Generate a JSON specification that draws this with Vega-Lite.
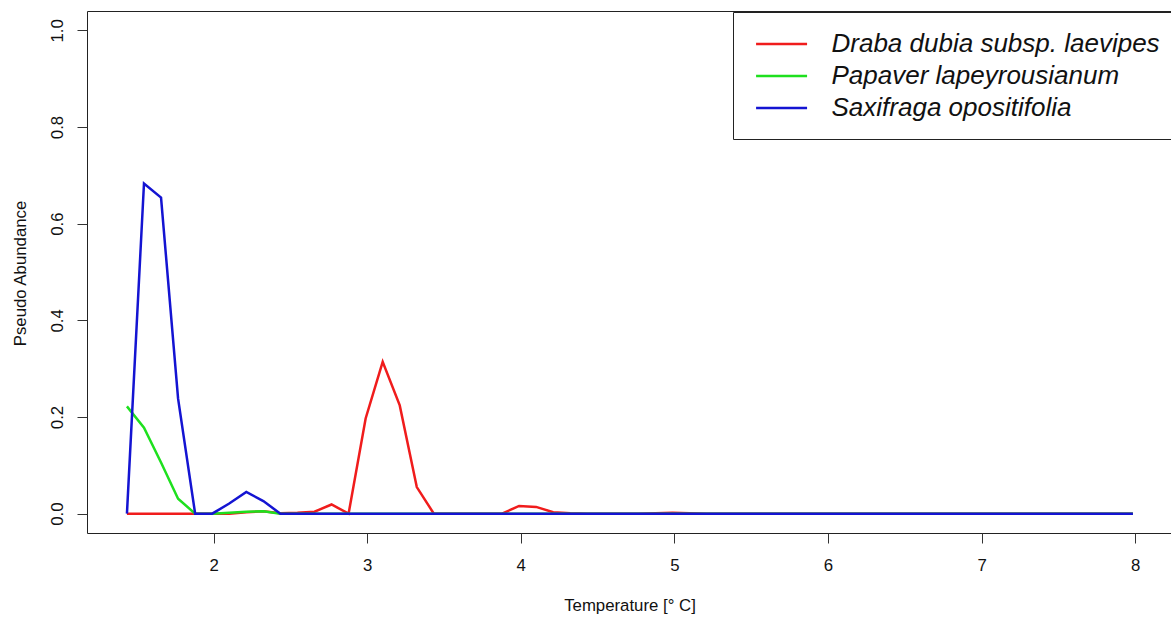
{
  "$schema": "https://vega.github.io/schema/vega-lite/v6.json",
  "width": 1084,
  "height": 522,
  "autosize": {"type": "none"},
  "padding": {"left": 87, "top": 11, "right": 0, "bottom": 84},
  "background": "white",
  "config": {
    "view": {"stroke": "#222", "strokeWidth": 1},
    "axis": {
      "grid": false, "domain": false, "tickColor": "#333", "tickSize": 10, "tickWidth": 1,
      "labelFont": "Liberation Sans", "labelFontSize": 16.8, "labelColor": "#111",
      "titleFont": "Liberation Sans", "titleFontSize": 16.8, "titleFontWeight": "normal", "titleColor": "#111"
    },
    "legend": {
      "orient": "none", "legendX": 646, "legendY": 1, "title": null,
      "strokeColor": "#222", "fillColor": "white", "padding": 18,
      "symbolType": "M-0.7,0H3.3", "symbolSize": 650, "symbolStrokeWidth": 2.5,
      "labelFont": "Liberation Sans", "labelFontSize": 26, "labelFontStyle": "italic", "labelColor": "#111",
      "labelOffset": 52.5, "rowPadding": 5, "labelLimit": 800, "labelBaseline": "middle"
    }
  },
  "data": {"values": [
    {"temperature": 1.436, "species": "Draba dubia subsp. laevipes", "abundance": 0},
    {"temperature": 1.547, "species": "Draba dubia subsp. laevipes", "abundance": 0},
    {"temperature": 1.658, "species": "Draba dubia subsp. laevipes", "abundance": 0},
    {"temperature": 1.769, "species": "Draba dubia subsp. laevipes", "abundance": 0},
    {"temperature": 1.880, "species": "Draba dubia subsp. laevipes", "abundance": 0},
    {"temperature": 1.991, "species": "Draba dubia subsp. laevipes", "abundance": 0},
    {"temperature": 2.102, "species": "Draba dubia subsp. laevipes", "abundance": 0},
    {"temperature": 2.213, "species": "Draba dubia subsp. laevipes", "abundance": 0.003},
    {"temperature": 2.324, "species": "Draba dubia subsp. laevipes", "abundance": 0.005},
    {"temperature": 2.435, "species": "Draba dubia subsp. laevipes", "abundance": 0.001},
    {"temperature": 2.546, "species": "Draba dubia subsp. laevipes", "abundance": 0.002},
    {"temperature": 2.657, "species": "Draba dubia subsp. laevipes", "abundance": 0.004},
    {"temperature": 2.768, "species": "Draba dubia subsp. laevipes", "abundance": 0.019},
    {"temperature": 2.879, "species": "Draba dubia subsp. laevipes", "abundance": 0},
    {"temperature": 2.990, "species": "Draba dubia subsp. laevipes", "abundance": 0.197},
    {"temperature": 3.101, "species": "Draba dubia subsp. laevipes", "abundance": 0.314},
    {"temperature": 3.212, "species": "Draba dubia subsp. laevipes", "abundance": 0.224},
    {"temperature": 3.323, "species": "Draba dubia subsp. laevipes", "abundance": 0.055},
    {"temperature": 3.434, "species": "Draba dubia subsp. laevipes", "abundance": 0},
    {"temperature": 3.545, "species": "Draba dubia subsp. laevipes", "abundance": 0},
    {"temperature": 3.656, "species": "Draba dubia subsp. laevipes", "abundance": 0},
    {"temperature": 3.767, "species": "Draba dubia subsp. laevipes", "abundance": 0},
    {"temperature": 3.878, "species": "Draba dubia subsp. laevipes", "abundance": 0},
    {"temperature": 3.989, "species": "Draba dubia subsp. laevipes", "abundance": 0.016},
    {"temperature": 4.100, "species": "Draba dubia subsp. laevipes", "abundance": 0.014},
    {"temperature": 4.211, "species": "Draba dubia subsp. laevipes", "abundance": 0.003},
    {"temperature": 4.322, "species": "Draba dubia subsp. laevipes", "abundance": 0.001},
    {"temperature": 4.433, "species": "Draba dubia subsp. laevipes", "abundance": 0},
    {"temperature": 4.544, "species": "Draba dubia subsp. laevipes", "abundance": 0},
    {"temperature": 4.655, "species": "Draba dubia subsp. laevipes", "abundance": 0},
    {"temperature": 4.766, "species": "Draba dubia subsp. laevipes", "abundance": 0},
    {"temperature": 4.877, "species": "Draba dubia subsp. laevipes", "abundance": 0.001},
    {"temperature": 4.988, "species": "Draba dubia subsp. laevipes", "abundance": 0.002},
    {"temperature": 5.099, "species": "Draba dubia subsp. laevipes", "abundance": 0.001},
    {"temperature": 5.210, "species": "Draba dubia subsp. laevipes", "abundance": 0},
    {"temperature": 5.321, "species": "Draba dubia subsp. laevipes", "abundance": 0},
    {"temperature": 5.432, "species": "Draba dubia subsp. laevipes", "abundance": 0},
    {"temperature": 5.543, "species": "Draba dubia subsp. laevipes", "abundance": 0},
    {"temperature": 5.654, "species": "Draba dubia subsp. laevipes", "abundance": 0},
    {"temperature": 5.765, "species": "Draba dubia subsp. laevipes", "abundance": 0},
    {"temperature": 5.876, "species": "Draba dubia subsp. laevipes", "abundance": 0},
    {"temperature": 5.987, "species": "Draba dubia subsp. laevipes", "abundance": 0},
    {"temperature": 6.098, "species": "Draba dubia subsp. laevipes", "abundance": 0},
    {"temperature": 6.209, "species": "Draba dubia subsp. laevipes", "abundance": 0},
    {"temperature": 6.320, "species": "Draba dubia subsp. laevipes", "abundance": 0},
    {"temperature": 6.431, "species": "Draba dubia subsp. laevipes", "abundance": 0},
    {"temperature": 6.542, "species": "Draba dubia subsp. laevipes", "abundance": 0},
    {"temperature": 6.653, "species": "Draba dubia subsp. laevipes", "abundance": 0},
    {"temperature": 6.764, "species": "Draba dubia subsp. laevipes", "abundance": 0},
    {"temperature": 6.875, "species": "Draba dubia subsp. laevipes", "abundance": 0},
    {"temperature": 6.986, "species": "Draba dubia subsp. laevipes", "abundance": 0},
    {"temperature": 7.097, "species": "Draba dubia subsp. laevipes", "abundance": 0},
    {"temperature": 7.208, "species": "Draba dubia subsp. laevipes", "abundance": 0},
    {"temperature": 7.319, "species": "Draba dubia subsp. laevipes", "abundance": 0},
    {"temperature": 7.430, "species": "Draba dubia subsp. laevipes", "abundance": 0},
    {"temperature": 7.541, "species": "Draba dubia subsp. laevipes", "abundance": 0},
    {"temperature": 7.652, "species": "Draba dubia subsp. laevipes", "abundance": 0},
    {"temperature": 7.763, "species": "Draba dubia subsp. laevipes", "abundance": 0},
    {"temperature": 7.874, "species": "Draba dubia subsp. laevipes", "abundance": 0},
    {"temperature": 7.985, "species": "Draba dubia subsp. laevipes", "abundance": 0},
    {"temperature": 1.436, "species": "Papaver lapeyrousianum", "abundance": 0.222},
    {"temperature": 1.547, "species": "Papaver lapeyrousianum", "abundance": 0.178},
    {"temperature": 1.658, "species": "Papaver lapeyrousianum", "abundance": 0.106},
    {"temperature": 1.769, "species": "Papaver lapeyrousianum", "abundance": 0.031},
    {"temperature": 1.880, "species": "Papaver lapeyrousianum", "abundance": 0},
    {"temperature": 1.991, "species": "Papaver lapeyrousianum", "abundance": 0},
    {"temperature": 2.102, "species": "Papaver lapeyrousianum", "abundance": 0.002},
    {"temperature": 2.213, "species": "Papaver lapeyrousianum", "abundance": 0.004},
    {"temperature": 2.324, "species": "Papaver lapeyrousianum", "abundance": 0.005},
    {"temperature": 2.435, "species": "Papaver lapeyrousianum", "abundance": 0},
    {"temperature": 2.546, "species": "Papaver lapeyrousianum", "abundance": 0},
    {"temperature": 2.657, "species": "Papaver lapeyrousianum", "abundance": 0},
    {"temperature": 2.768, "species": "Papaver lapeyrousianum", "abundance": 0},
    {"temperature": 2.879, "species": "Papaver lapeyrousianum", "abundance": 0},
    {"temperature": 2.990, "species": "Papaver lapeyrousianum", "abundance": 0},
    {"temperature": 3.101, "species": "Papaver lapeyrousianum", "abundance": 0},
    {"temperature": 3.212, "species": "Papaver lapeyrousianum", "abundance": 0},
    {"temperature": 3.323, "species": "Papaver lapeyrousianum", "abundance": 0},
    {"temperature": 3.434, "species": "Papaver lapeyrousianum", "abundance": 0},
    {"temperature": 3.545, "species": "Papaver lapeyrousianum", "abundance": 0},
    {"temperature": 3.656, "species": "Papaver lapeyrousianum", "abundance": 0},
    {"temperature": 3.767, "species": "Papaver lapeyrousianum", "abundance": 0},
    {"temperature": 3.878, "species": "Papaver lapeyrousianum", "abundance": 0},
    {"temperature": 3.989, "species": "Papaver lapeyrousianum", "abundance": 0},
    {"temperature": 4.100, "species": "Papaver lapeyrousianum", "abundance": 0},
    {"temperature": 4.211, "species": "Papaver lapeyrousianum", "abundance": 0},
    {"temperature": 4.322, "species": "Papaver lapeyrousianum", "abundance": 0},
    {"temperature": 4.433, "species": "Papaver lapeyrousianum", "abundance": 0},
    {"temperature": 4.544, "species": "Papaver lapeyrousianum", "abundance": 0},
    {"temperature": 4.655, "species": "Papaver lapeyrousianum", "abundance": 0},
    {"temperature": 4.766, "species": "Papaver lapeyrousianum", "abundance": 0},
    {"temperature": 4.877, "species": "Papaver lapeyrousianum", "abundance": 0},
    {"temperature": 4.988, "species": "Papaver lapeyrousianum", "abundance": 0},
    {"temperature": 5.099, "species": "Papaver lapeyrousianum", "abundance": 0},
    {"temperature": 5.210, "species": "Papaver lapeyrousianum", "abundance": 0},
    {"temperature": 5.321, "species": "Papaver lapeyrousianum", "abundance": 0},
    {"temperature": 5.432, "species": "Papaver lapeyrousianum", "abundance": 0},
    {"temperature": 5.543, "species": "Papaver lapeyrousianum", "abundance": 0},
    {"temperature": 5.654, "species": "Papaver lapeyrousianum", "abundance": 0},
    {"temperature": 5.765, "species": "Papaver lapeyrousianum", "abundance": 0},
    {"temperature": 5.876, "species": "Papaver lapeyrousianum", "abundance": 0},
    {"temperature": 5.987, "species": "Papaver lapeyrousianum", "abundance": 0},
    {"temperature": 6.098, "species": "Papaver lapeyrousianum", "abundance": 0},
    {"temperature": 6.209, "species": "Papaver lapeyrousianum", "abundance": 0},
    {"temperature": 6.320, "species": "Papaver lapeyrousianum", "abundance": 0},
    {"temperature": 6.431, "species": "Papaver lapeyrousianum", "abundance": 0},
    {"temperature": 6.542, "species": "Papaver lapeyrousianum", "abundance": 0},
    {"temperature": 6.653, "species": "Papaver lapeyrousianum", "abundance": 0},
    {"temperature": 6.764, "species": "Papaver lapeyrousianum", "abundance": 0},
    {"temperature": 6.875, "species": "Papaver lapeyrousianum", "abundance": 0},
    {"temperature": 6.986, "species": "Papaver lapeyrousianum", "abundance": 0},
    {"temperature": 7.097, "species": "Papaver lapeyrousianum", "abundance": 0},
    {"temperature": 7.208, "species": "Papaver lapeyrousianum", "abundance": 0},
    {"temperature": 7.319, "species": "Papaver lapeyrousianum", "abundance": 0},
    {"temperature": 7.430, "species": "Papaver lapeyrousianum", "abundance": 0},
    {"temperature": 7.541, "species": "Papaver lapeyrousianum", "abundance": 0},
    {"temperature": 7.652, "species": "Papaver lapeyrousianum", "abundance": 0},
    {"temperature": 7.763, "species": "Papaver lapeyrousianum", "abundance": 0},
    {"temperature": 7.874, "species": "Papaver lapeyrousianum", "abundance": 0},
    {"temperature": 7.985, "species": "Papaver lapeyrousianum", "abundance": 0},
    {"temperature": 1.436, "species": "Saxifraga opositifolia", "abundance": 0},
    {"temperature": 1.547, "species": "Saxifraga opositifolia", "abundance": 0.683},
    {"temperature": 1.658, "species": "Saxifraga opositifolia", "abundance": 0.654},
    {"temperature": 1.769, "species": "Saxifraga opositifolia", "abundance": 0.238},
    {"temperature": 1.880, "species": "Saxifraga opositifolia", "abundance": 0},
    {"temperature": 1.991, "species": "Saxifraga opositifolia", "abundance": 0},
    {"temperature": 2.102, "species": "Saxifraga opositifolia", "abundance": 0.021},
    {"temperature": 2.213, "species": "Saxifraga opositifolia", "abundance": 0.045},
    {"temperature": 2.324, "species": "Saxifraga opositifolia", "abundance": 0.026},
    {"temperature": 2.435, "species": "Saxifraga opositifolia", "abundance": 0},
    {"temperature": 2.546, "species": "Saxifraga opositifolia", "abundance": 0},
    {"temperature": 2.657, "species": "Saxifraga opositifolia", "abundance": 0},
    {"temperature": 2.768, "species": "Saxifraga opositifolia", "abundance": 0},
    {"temperature": 2.879, "species": "Saxifraga opositifolia", "abundance": 0},
    {"temperature": 2.990, "species": "Saxifraga opositifolia", "abundance": 0},
    {"temperature": 3.101, "species": "Saxifraga opositifolia", "abundance": 0},
    {"temperature": 3.212, "species": "Saxifraga opositifolia", "abundance": 0},
    {"temperature": 3.323, "species": "Saxifraga opositifolia", "abundance": 0},
    {"temperature": 3.434, "species": "Saxifraga opositifolia", "abundance": 0},
    {"temperature": 3.545, "species": "Saxifraga opositifolia", "abundance": 0},
    {"temperature": 3.656, "species": "Saxifraga opositifolia", "abundance": 0},
    {"temperature": 3.767, "species": "Saxifraga opositifolia", "abundance": 0},
    {"temperature": 3.878, "species": "Saxifraga opositifolia", "abundance": 0},
    {"temperature": 3.989, "species": "Saxifraga opositifolia", "abundance": 0},
    {"temperature": 4.100, "species": "Saxifraga opositifolia", "abundance": 0},
    {"temperature": 4.211, "species": "Saxifraga opositifolia", "abundance": 0},
    {"temperature": 4.322, "species": "Saxifraga opositifolia", "abundance": 0},
    {"temperature": 4.433, "species": "Saxifraga opositifolia", "abundance": 0},
    {"temperature": 4.544, "species": "Saxifraga opositifolia", "abundance": 0},
    {"temperature": 4.655, "species": "Saxifraga opositifolia", "abundance": 0},
    {"temperature": 4.766, "species": "Saxifraga opositifolia", "abundance": 0},
    {"temperature": 4.877, "species": "Saxifraga opositifolia", "abundance": 0},
    {"temperature": 4.988, "species": "Saxifraga opositifolia", "abundance": 0},
    {"temperature": 5.099, "species": "Saxifraga opositifolia", "abundance": 0},
    {"temperature": 5.210, "species": "Saxifraga opositifolia", "abundance": 0},
    {"temperature": 5.321, "species": "Saxifraga opositifolia", "abundance": 0},
    {"temperature": 5.432, "species": "Saxifraga opositifolia", "abundance": 0},
    {"temperature": 5.543, "species": "Saxifraga opositifolia", "abundance": 0},
    {"temperature": 5.654, "species": "Saxifraga opositifolia", "abundance": 0},
    {"temperature": 5.765, "species": "Saxifraga opositifolia", "abundance": 0},
    {"temperature": 5.876, "species": "Saxifraga opositifolia", "abundance": 0},
    {"temperature": 5.987, "species": "Saxifraga opositifolia", "abundance": 0},
    {"temperature": 6.098, "species": "Saxifraga opositifolia", "abundance": 0},
    {"temperature": 6.209, "species": "Saxifraga opositifolia", "abundance": 0},
    {"temperature": 6.320, "species": "Saxifraga opositifolia", "abundance": 0},
    {"temperature": 6.431, "species": "Saxifraga opositifolia", "abundance": 0},
    {"temperature": 6.542, "species": "Saxifraga opositifolia", "abundance": 0},
    {"temperature": 6.653, "species": "Saxifraga opositifolia", "abundance": 0},
    {"temperature": 6.764, "species": "Saxifraga opositifolia", "abundance": 0},
    {"temperature": 6.875, "species": "Saxifraga opositifolia", "abundance": 0},
    {"temperature": 6.986, "species": "Saxifraga opositifolia", "abundance": 0},
    {"temperature": 7.097, "species": "Saxifraga opositifolia", "abundance": 0},
    {"temperature": 7.208, "species": "Saxifraga opositifolia", "abundance": 0},
    {"temperature": 7.319, "species": "Saxifraga opositifolia", "abundance": 0},
    {"temperature": 7.430, "species": "Saxifraga opositifolia", "abundance": 0},
    {"temperature": 7.541, "species": "Saxifraga opositifolia", "abundance": 0},
    {"temperature": 7.652, "species": "Saxifraga opositifolia", "abundance": 0},
    {"temperature": 7.763, "species": "Saxifraga opositifolia", "abundance": 0},
    {"temperature": 7.874, "species": "Saxifraga opositifolia", "abundance": 0},
    {"temperature": 7.985, "species": "Saxifraga opositifolia", "abundance": 0}
  ]},
  "mark": {"type": "line", "strokeWidth": 2.5, "clip": true},
  "encoding": {
    "x": {
      "field": "temperature", "type": "quantitative",
      "scale": {"domain": [1.176, 8.233], "nice": false, "zero": false},
      "axis": {
        "values": [2, 3, 4, 5, 6, 7, 8], "format": "d",
        "labelBaseline": "alphabetic", "labelPadding": 27,
        "title": "Temperature [° C]", "titleX": 542.5, "titleY": 77.5,
        "titleAlign": "center", "titleBaseline": "alphabetic"
      }
    },
    "y": {
      "field": "abundance", "type": "quantitative",
      "scale": {"domain": [-0.04, 1.04], "nice": false, "zero": false},
      "axis": {
        "values": [0, 0.2, 0.4, 0.6, 0.8, 1.0], "format": ".1f",
        "labelAngle": 270, "labelAlign": "center", "labelBaseline": "alphabetic", "labelPadding": 15,
        "title": "Pseudo Abundance", "titleX": -62, "titleY": 262, "titleAngle": 270,
        "titleAlign": "center", "titleBaseline": "alphabetic"
      }
    },
    "color": {
      "field": "species", "type": "nominal",
      "scale": {
        "domain": ["Draba dubia subsp. laevipes", "Papaver lapeyrousianum", "Saxifraga opositifolia"],
        "range": ["#f01c1c", "#1ee01e", "#1414d2"]
      },
      "legend": {}
    }
  }
}
